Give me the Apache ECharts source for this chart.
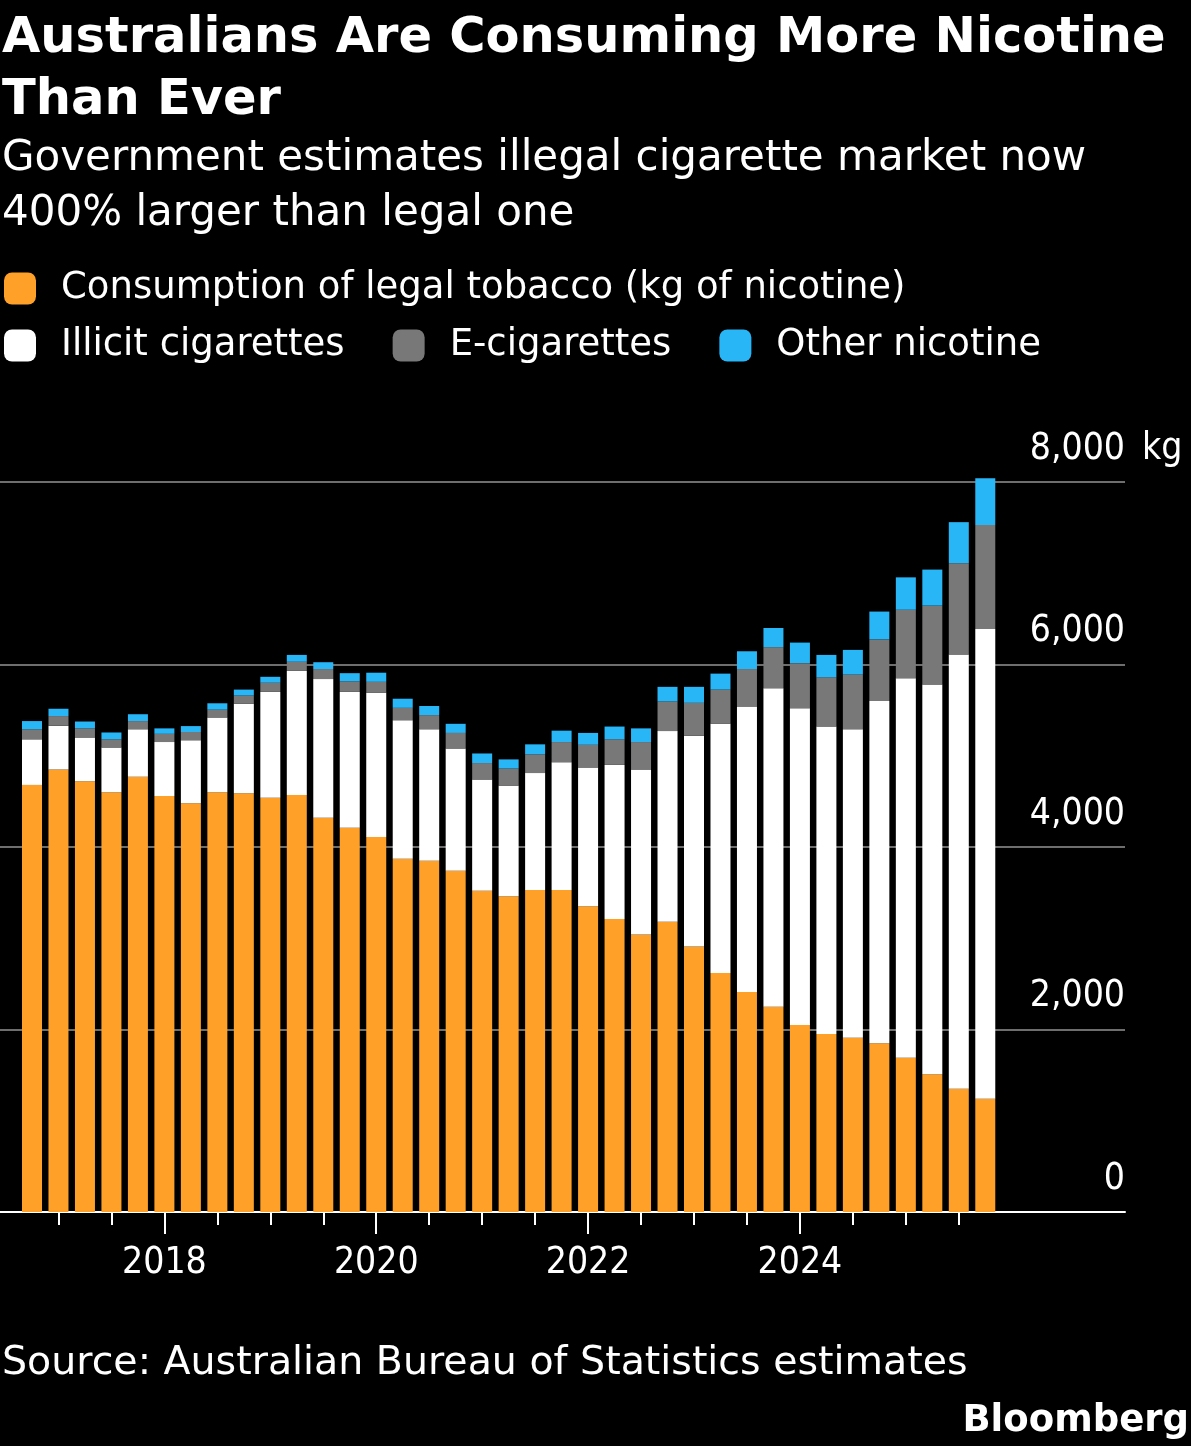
<!DOCTYPE html>
<html>
<head>
<meta charset="utf-8">
<script src="https://cdn.jsdelivr.net/npm/echarts@6/dist/echarts.min.js"></script>
<style>
  html, body { margin: 0; padding: 0; background: #000; }
  #chart { width: 1191px; height: 1446px; }
</style>
</head>
<body>
<div id="chart"></div>
<script>
// quarterly, kg of nicotine
var quarters = [
  '2016 Q4',
  '2017 Q1', '2017 Q2', '2017 Q3', '2017 Q4',
  '2018 Q1', '2018 Q2', '2018 Q3', '2018 Q4',
  '2019 Q1', '2019 Q2', '2019 Q3', '2019 Q4',
  '2020 Q1', '2020 Q2', '2020 Q3', '2020 Q4',
  '2021 Q1', '2021 Q2', '2021 Q3', '2021 Q4',
  '2022 Q1', '2022 Q2', '2022 Q3', '2022 Q4',
  '2023 Q1', '2023 Q2', '2023 Q3', '2023 Q4',
  '2024 Q1', '2024 Q2', '2024 Q3', '2024 Q4',
  '2025 Q1', '2025 Q2', '2025 Q3', '2025 Q4'
];
var legal = [4680, 4850, 4720, 4600, 4770, 4560, 4480, 4600, 4590, 4540, 4570, 4320, 4210, 4110, 3870, 3850, 3740, 3520, 3460, 3530, 3530, 3350, 3210, 3040, 3180, 2910, 2620, 2410, 2250, 2050, 1950, 1910, 1850, 1690, 1510, 1350, 1240];
var illicit = [500, 480, 480, 490, 520, 590, 690, 820, 980, 1160, 1360, 1520, 1490, 1580, 1520, 1440, 1340, 1220, 1210, 1280, 1400, 1520, 1690, 1810, 2090, 2310, 2730, 3130, 3490, 3470, 3370, 3380, 3750, 4160, 4270, 4760, 5150];
var ecig = [110, 105, 100, 90, 90, 90, 90, 85, 90, 100, 100, 110, 115, 120, 135, 155, 170, 180, 190, 205, 220, 250, 280, 300, 325, 360, 375, 410, 450, 495, 540, 600, 675, 750, 865, 1000, 1140];
var other = [90, 80, 75, 75, 75, 60, 65, 70, 65, 65, 75, 75, 90, 100, 100, 100, 100, 105, 100, 110, 125, 130, 140, 150, 160, 175, 175, 195, 210, 225, 245, 270, 305, 355, 395, 450, 510];

var names = ['Consumption of legal tobacco (kg of nicotine)', 'Illicit cigarettes', 'E-cigarettes', 'Other nicotine'];
var colors = ['#ffa028', '#ffffff', '#787878', '#29b6f6'];

var FONT = 'DejaVu Sans';
var NUMFONT = '"DejaVu Sans Condensed", "DejaVu Sans"';

// half-year ticks, long ticks + labels on even years
var minorTicks = [], majorTicks = [];
quarters.forEach(function (q, i) {
  var yr = +q.slice(0, 4), qn = q.slice(-2);
  if (qn == 'Q1' || qn == 'Q3') minorTicks.push(i);
  if (qn == 'Q1' && yr % 2 == 0) majorTicks.push(i);
});

// plot area: full frame (gridlines/axis) and the part holding the bars
var plotL = 0, plotR = 1125, plotTop = 482, plotBottom = 1212;
var band = 26.48, firstCenter = 32;
var barsL = firstCenter - band / 2;
var barsW = band * quarters.length;
var xMin = (plotL - firstCenter) / band, xMax = (plotR - firstCenter) / band;

var chart = echarts.init(document.getElementById('chart'), null, { renderer: 'canvas' });

var series = [legal, illicit, ecig, other].map(function (arr, k) {
  return {
    name: names[k],
    type: 'bar',
    stack: 'total',
    xAxisIndex: 2,
    yAxisIndex: 2,
    barWidth: 20,
    clip: false,
    itemStyle: { color: colors[k] },
    emphasis: { disabled: true },
    data: arr
  };
});

var labelFont = { color: '#fff', fontFamily: NUMFONT, fontSize: 37 };

chart.setOption({
  backgroundColor: '#000',
  animation: false,
  title: [{
    text: 'Australians Are Consuming More Nicotine\nThan Ever',
    left: -3, top: 3,
    textStyle: { color: '#fff', fontFamily: FONT, fontWeight: 'bold', fontSize: 49.5, lineHeight: 62 }
  }, {
    text: 'Government estimates illegal cigarette market now\n400% larger than legal one',
    left: -3, top: 127,
    textStyle: { color: '#fff', fontFamily: FONT, fontWeight: 'normal', fontSize: 42, lineHeight: 55 }
  }, {
    text: 'Source: Australian Bureau of Statistics estimates',
    left: -3, top: 1335,
    textStyle: { color: '#fff', fontFamily: FONT, fontWeight: 'normal', fontSize: 39.5, lineHeight: 48 }
  }, {
    text: 'Bloomberg',
    right: -3, top: 1394,
    textStyle: { color: '#fff', fontFamily: FONT, fontWeight: 'bold', fontSize: 37, lineHeight: 44 }
  }],
  legend: [{
    data: [names[0]],
    left: 4, top: 270, padding: 0,
    itemWidth: 32, itemHeight: 32, itemGap: 48,
    icon: 'roundRect', selectedMode: false,
    textStyle: { color: '#fff', fontFamily: FONT, fontSize: 37, padding: [0, 0, 0, 20] }
  }, {
    data: names.slice(1),
    left: 4, top: 327, padding: 0,
    itemWidth: 32, itemHeight: 32, itemGap: 48,
    icon: 'roundRect', selectedMode: false,
    textStyle: { color: '#fff', fontFamily: FONT, fontSize: 37, padding: [0, 0, 0, 20] }
  }],
  grid: [
    { left: plotL, width: plotR - plotL, top: plotTop, height: plotBottom - plotTop },
    { left: barsL, width: barsW, top: plotTop, height: plotBottom - plotTop }
  ],
  xAxis: [{
    gridIndex: 0, type: 'value', min: xMin, max: xMax,
    axisLine: { show: true, lineStyle: { color: '#fff', width: 2 } },
    axisTick: { show: true, customValues: minorTicks, length: 13, lineStyle: { color: '#fff', width: 2 } },
    axisLabel: { show: false },
    splitLine: { show: false }
  }, {
    gridIndex: 0, type: 'value', min: xMin, max: xMax, position: 'bottom',
    axisLine: { show: false },
    axisTick: { show: true, customValues: majorTicks, length: 22, lineStyle: { color: '#fff', width: 2 } },
    axisLabel: Object.assign({
      show: true, customValues: majorTicks, margin: 33,
      formatter: function (v) { return quarters[Math.round(v)].slice(0, 4); }
    }, labelFont),
    splitLine: { show: false }
  }, {
    gridIndex: 1, type: 'category', data: quarters, boundaryGap: true, show: false
  }],
  yAxis: [{
    gridIndex: 0, type: 'value', position: 'right', min: 0, max: 8000, interval: 2000,
    axisLine: { show: false }, axisTick: { show: false },
    splitLine: { show: true, lineStyle: { color: '#6e6e6e', width: 2 } },
    axisLabel: Object.assign({
      inside: true, margin: 0, align: 'right', verticalAlign: 'bottom',
      lineHeight: 40, padding: [0, 0, 13, 0],
      formatter: function (v) { return v.toLocaleString('en-US'); }
    }, labelFont)
  }, {
    gridIndex: 0, type: 'value', position: 'right', min: 0, max: 8000, interval: 2000,
    axisLine: { show: false }, axisTick: { show: false }, splitLine: { show: false },
    axisLabel: Object.assign({
      inside: false, margin: 17, align: 'left', verticalAlign: 'bottom',
      lineHeight: 40, padding: [0, 0, 13, 0],
      formatter: function (v) { return v == 8000 ? 'kg' : ''; }
    }, labelFont)
  }, {
    gridIndex: 1, type: 'value', min: 0, max: 8000, show: false, splitLine: { show: false }
  }],
  series: series
});
</script>
</body>
</html>
